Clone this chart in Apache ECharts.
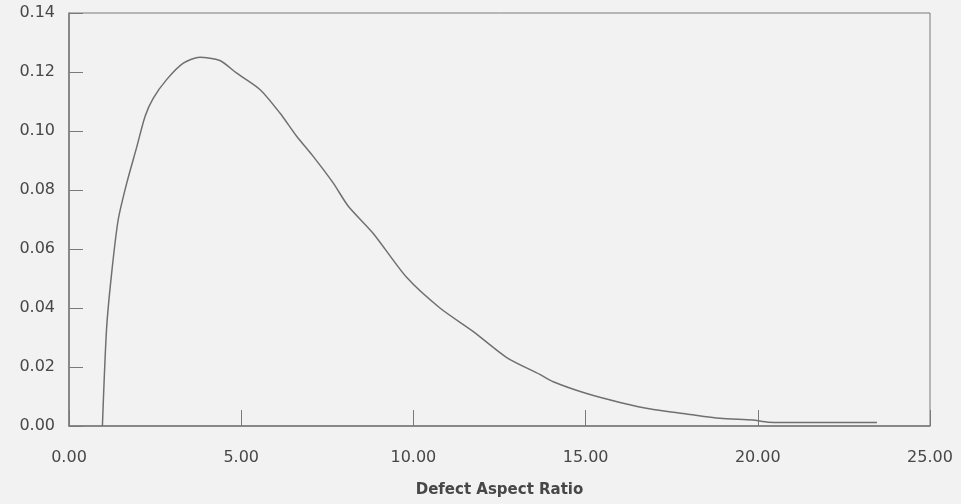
<!DOCTYPE html>
<html>
<head>
<meta charset="utf-8">
<script src="https://cdn.jsdelivr.net/npm/echarts@6/dist/echarts.min.js"></script>
<style>
  html, body { margin: 0; padding: 0; background: #f2f2f2; }
  #chart { width: 961px; height: 504px; }
</style>
</head>
<body>
<div id="chart"></div>
<script>
// defect aspect ratio (x) vs probability density (y)
var ratio = [0.97, 1.09, 1.24, 1.43, 1.68, 1.97, 2.21, 2.44, 2.84, 3.32, 3.80, 4.38, 4.87, 5.55, 6.13, 6.61, 7.09, 7.67, 8.11, 8.84, 9.81, 10.77, 11.74, 12.71, 13.67, 14.06, 15.03, 16.00, 16.97, 17.93, 18.90, 19.86, 20.30, 21.50, 22.50, 23.46];
var density = [0.0, 0.0328, 0.052, 0.070, 0.0825, 0.0947, 0.105, 0.1110, 0.1175, 0.123, 0.125, 0.1239, 0.1196, 0.114, 0.106, 0.0982, 0.0914, 0.0824, 0.0745, 0.0652, 0.0503, 0.040, 0.032, 0.0232, 0.0175, 0.0150, 0.0110, 0.0080, 0.0056, 0.0041, 0.0026, 0.0020, 0.0013, 0.0012, 0.0012, 0.0012];
var xTicks = [0, 5, 10, 15, 20, 25];
var yTicks = [0, 0.02, 0.04, 0.06, 0.08, 0.10, 0.12, 0.14];

var points = ratio.map(function (r, i) { return [r, density[i]]; });

var myChart = echarts.init(document.getElementById('chart'));
var axisGray = '#7a7a7a';
var labelStyle = {
  color: '#474747',
  fontFamily: 'DejaVu Sans, Arial, sans-serif',
  fontSize: 16
};

myChart.setOption({
  backgroundColor: '#f2f2f2',
  animation: false,
  grid: {
    left: 69,
    right: 31,
    top: 13,
    bottom: 78,
    show: true,
    borderColor: axisGray,
    borderWidth: 1
  },
  xAxis: {
    type: 'value',
    min: xTicks[0],
    max: xTicks[xTicks.length - 1],
    interval: 5,
    name: 'Defect Aspect Ratio',
    nameLocation: 'middle',
    nameGap: 57,
    nameTextStyle: {
      color: '#474747',
      fontFamily: 'DejaVu Sans, Arial, sans-serif',
      fontSize: 15,
      fontWeight: 'bold'
    },
    axisLine: { lineStyle: { color: axisGray, width: 1.5 } },
    axisTick: { inside: true, length: 16, lineStyle: { color: axisGray } },
    axisLabel: Object.assign({
      margin: 24,
      formatter: function (v) { return v.toFixed(2); }
    }, labelStyle),
    splitLine: { show: false }
  },
  yAxis: {
    type: 'value',
    min: yTicks[0],
    max: yTicks[yTicks.length - 1],
    interval: 0.02,
    axisLine: { show: true, lineStyle: { color: axisGray, width: 1.5 } },
    axisTick: { show: true, inside: true, length: 14, lineStyle: { color: axisGray } },
    axisLabel: Object.assign({
      margin: 14,
      formatter: function (v) { return v.toFixed(2); }
    }, labelStyle),
    splitLine: { show: false }
  },
  series: [{
    type: 'line',
    data: points,
    smooth: 0.25,
    showSymbol: false,
    lineStyle: { color: '#707070', width: 1.5 }
  }]
});
</script>
</body>
</html>
